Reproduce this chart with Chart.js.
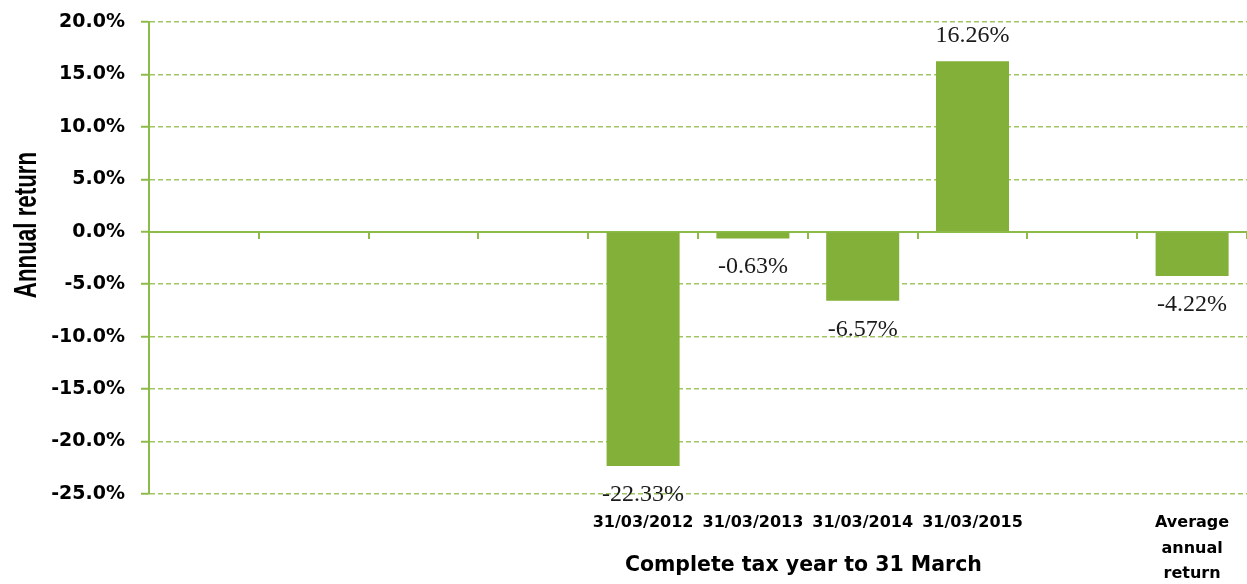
<!DOCTYPE html>
<html>
<head>
<meta charset="utf-8">
<script src="https://cdn.jsdelivr.net/npm/chart.js@4/dist/chart.umd.min.js"></script>
<style>
    html, body { margin: 0; padding: 0; background: #fff; }
    #wrap { width: 1247px; height: 584px; position: relative; }
</style>
</head>
<body>
<div id="wrap"><canvas id="returnChart"></canvas></div>
<script>
// ===== DATA =====
const categories = ['', '', '', '', '31/03/2012', '31/03/2013', '31/03/2014', '31/03/2015', '', ['Average', 'annual', 'return']];
const annualReturns = [null, null, null, null, -22.33, -0.63, -6.57, 16.26, null, -4.22];
const yTicks = [-25, -20, -15, -10, -5, 0, 5, 10, 15, 20];

const xTitle = 'Complete tax year to 31 March';
const yTitle = 'Annual return';

// ===== STYLE =====
const barGreen = '#82B038';
const axisGreen = '#8CBB4A';
const gridGreen = '#9FC660';

// value labels under/over each bar
const valueLabels = {
    id: 'valueLabels',
    afterDatasetsDraw(chart) {
        const c = chart.ctx;
        const meta = chart.getDatasetMeta(0);
        c.save();
        c.font = "24px 'Liberation Serif', 'DejaVu Serif', serif";
        c.fillStyle = '#1a1a1a';
        c.textAlign = 'center';
        c.textBaseline = 'alphabetic';
        meta.data.forEach(function (bar, i) {
            const v = annualReturns[i];
            if (v === null) return;
            const y = v >= 0 ? bar.y - 19 : bar.y + 35;
            c.fillText(v.toFixed(2) + '%', bar.x, y);
        });
        c.restore();
    }
};

// axis titles are placed off-centre in the original, so draw them by hand
const axisTitles = {
    id: 'axisTitles',
    afterDraw(chart) {
        const c = chart.ctx;
        const area = chart.chartArea;
        c.save();
        c.fillStyle = '#000';
        c.textAlign = 'center';
        c.textBaseline = 'alphabetic';
        c.font = "bold 20.5px 'DejaVu Sans', sans-serif";
        c.fillText(xTitle, area.left + (area.right - area.left) * 0.596, 571);

        // y title: tall, narrow lettering
        c.translate(36, 225);
        c.rotate(-Math.PI / 2);
        c.scale(0.72, 1);
        c.font = "bold 31px 'Liberation Sans', Arial, sans-serif";
        c.fillText(yTitle, 0, 0);
        c.restore();
    }
};

const ctx = document.getElementById('returnChart');

new Chart(ctx, {
    type: 'bar',
    data: {
        labels: categories,
        datasets: [{
            label: yTitle,
            data: annualReturns,
            backgroundColor: barGreen,
            borderWidth: 0,
            categoryPercentage: 1,
            barPercentage: 0.665,
            xAxisID: 'x'
        }]
    },
    options: {
        responsive: true,
        maintainAspectRatio: false,
        animation: false,
        layout: {
            padding: { top: 22, right: 0, bottom: 0, left: 0 }
        },
        plugins: {
            legend: { display: false },
            tooltip: { enabled: false }
        },
        scales: {
            x: {
                position: 'bottom',
                offset: true,
                afterFit: function (scale) { scale.height = 90; },
                grid: { display: false, drawTicks: false },
                border: { display: false },
                ticks: {
                    autoSkip: false,
                    maxRotation: 0,
                    padding: 16,
                    color: '#000',
                    font: { family: "'DejaVu Sans', sans-serif", size: 16, weight: 'bold', lineHeight: 1.6 }
                }
            },
            xZero: {
                type: 'category',
                labels: categories,
                position: { y: 0 },
                offset: true,
                grid: {
                    offset: true,
                    drawOnChartArea: false,
                    drawTicks: true,
                    tickLength: 6,
                    tickColor: axisGreen,
                    lineWidth: 2
                },
                border: { display: true, color: axisGreen, width: 2 },
                ticks: { display: false }
            },
            y: {
                min: -25,
                max: 20,
                afterFit: function (scale) {
                    scale.width = 149;
                    scale.paddingTop = 0;
                    scale.paddingBottom = 0;
                },
                afterBuildTicks: function (scale) {
                    scale.ticks = yTicks.map(function (v) { return { value: v }; });
                },
                grid: {
                    color: function (c) { return c.tick && c.tick.value === 0 ? 'rgba(0,0,0,0)' : gridGreen; },
                    lineWidth: 1.5,
                    tickLength: 8,
                    tickColor: axisGreen,
                    tickBorderDash: [],
                    tickWidth: 2
                },
                border: { display: true, color: axisGreen, width: 2, dash: [5, 3] },
                ticks: {
                    padding: 16,
                    color: '#000',
                    font: { family: "'DejaVu Sans', sans-serif", size: 19, weight: 'bold' },
                    callback: function (v) { return v.toFixed(1) + '%'; }
                },
                title: { display: false }
            }
        }
    },
    plugins: [valueLabels, axisTitles]
});
</script>
</body>
</html>
